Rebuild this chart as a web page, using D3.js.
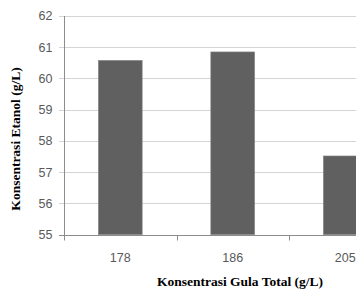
<!DOCTYPE html>
<html>
<head>
<meta charset="utf-8">
<script src="https://cdn.jsdelivr.net/npm/d3@7"></script>
<style>
  html, body { margin: 0; padding: 0; background: #fff; }
  svg { display: block; }
</style>
</head>
<body>
<div id="chart"></div>
<script>
    "use strict";

    var categories = ['178', '186', '205'];
    var etanol = [60.58, 60.85, 57.52];
    var yTicks = [55, 56, 57, 58, 59, 60, 61, 62];

    var width = 356, height = 289;
    var margin = { top: 16, left: 64, bottom: 54 };
    var bandStep = 112.5;

    var svg = d3.select('#chart').append('svg')
        .attr('width', width)
        .attr('height', height);

    var x = d3.scaleBand()
        .domain(categories)
        .range([margin.left, margin.left + bandStep * categories.length])
        .paddingInner(0.61)
        .paddingOuter(0.305);

    var y = d3.scaleLinear()
        .domain([55, 62])
        .range([height - margin.bottom - 0.3, margin.top]);

    // gridlines
    svg.append('g')
        .selectAll('line')
        .data(yTicks)
        .enter()
        .append('line')
        .attr('x1', margin.left - 5)
        .attr('x2', width)
        .attr('y1', function (d) { return Math.round(y(d)) + 0.5; })
        .attr('y2', function (d) { return Math.round(y(d)) + 0.5; })
        .attr('stroke', function (d) { return d === 55 ? '#8c8c8c' : '#d4d4d4'; })
        .attr('stroke-width', 1);

    // bars
    svg.append('g')
        .selectAll('rect')
        .data(etanol)
        .enter()
        .append('rect')
        .attr('x', function (d, i) { return x(categories[i]); })
        .attr('width', x.bandwidth())
        .attr('y', function (d) { return y(d); })
        .attr('height', function (d) { return y(55) - y(d); })
        .attr('fill', '#606060')
        .attr('stroke', '#8a8a8a')
        .attr('stroke-width', 0.6);

    // y axis line
    svg.append('line')
        .attr('x1', margin.left + 0.5).attr('x2', margin.left + 0.5)
        .attr('y1', y(62)).attr('y2', Math.round(y(55)) + 0.5)
        .attr('stroke', '#8c8c8c');

    // x ticks at band boundaries
    var boundaries = categories.map(function (c) { return x(c) - x.step() * x.paddingOuter(); });
    svg.append('g')
        .selectAll('line')
        .data(boundaries)
        .enter()
        .append('line')
        .attr('x1', function (d) { return Math.round(d) + 0.5; })
        .attr('x2', function (d) { return Math.round(d) + 0.5; })
        .attr('y1', Math.round(y(55)) + 0.5)
        .attr('y2', Math.round(y(55)) + 5.5)
        .attr('stroke', '#8c8c8c');

    // y tick labels
    svg.append('g')
        .selectAll('text')
        .data(yTicks)
        .enter()
        .append('text')
        .attr('x', 52.5)
        .attr('y', function (d) { return y(d); })
        .attr('dy', '0.35em')
        .attr('text-anchor', 'end')
        .attr('font-family', 'Liberation Sans, Arial, sans-serif')
        .attr('font-size', 12.5)
        .attr('fill', '#595959')
        .text(function (d) { return d; });

    // x tick labels
    svg.append('g')
        .selectAll('text')
        .data(categories)
        .enter()
        .append('text')
        .attr('x', function (d) { return x(d) + x.bandwidth() / 2; })
        .attr('y', 258)
        .attr('dy', '0.35em')
        .attr('text-anchor', 'middle')
        .attr('font-family', 'Liberation Sans, Arial, sans-serif')
        .attr('font-size', 12.5)
        .attr('fill', '#595959')
        .text(function (d) { return d; });

    // axis titles
    svg.append('text')
        .attr('x', 240)
        .attr('y', 281)
        .attr('dy', '0.35em')
        .attr('text-anchor', 'middle')
        .attr('font-family', 'Liberation Serif, Times New Roman, serif')
        .attr('font-weight', 'bold')
        .attr('font-size', 13.5)
        .attr('fill', '#000')
        .text('Konsentrasi Gula Total (g/L)');

    svg.append('text')
        .attr('transform', 'translate(15.5,' + 139 + ') rotate(-90)')
        .attr('dy', '0.35em')
        .attr('text-anchor', 'middle')
        .attr('font-family', 'Liberation Serif, Times New Roman, serif')
        .attr('font-weight', 'bold')
        .attr('font-size', 13.5)
        .attr('fill', '#000')
        .text('Konsentrasi Etanol (g/L)');
</script>
</body>
</html>
